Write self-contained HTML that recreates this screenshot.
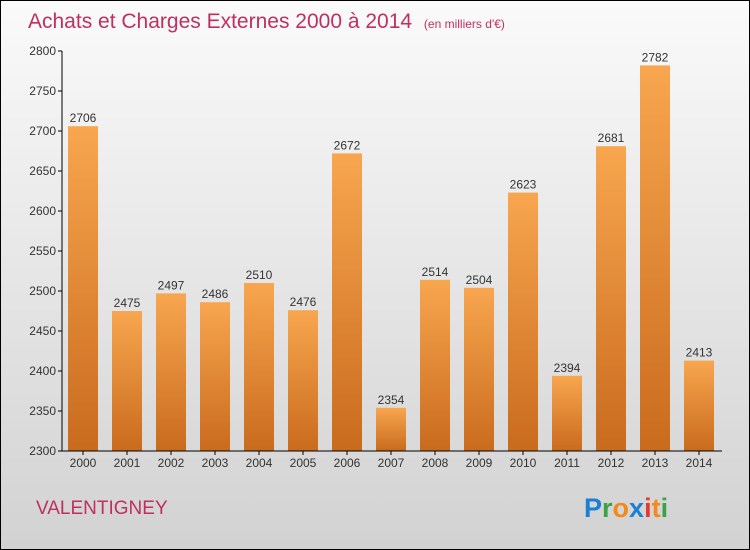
<!DOCTYPE html>
<html><head><meta charset="utf-8"><style>
body{margin:0}
#c{position:relative;width:748px;height:548px;border:1px solid #000;background:linear-gradient(#fafafa,#d2d2d2);font-family:"Liberation Sans",sans-serif;overflow:hidden}
</style></head><body>
<div id="c">
<svg id="s" width="748" height="548" style="position:absolute;left:0;top:0">
<defs><linearGradient id="g" x1="0" y1="0" x2="0" y2="1"><stop offset="0" stop-color="#f8a64f"/><stop offset="1" stop-color="#c96b1d"/></linearGradient></defs>
<text x="27" y="27" font-size="21" fill="#c0305f">Achats et Charges Externes 2000 à 2014 <tspan font-size="12" dx="6">(en milliers d'€)</tspan></text>
<text x="35" y="513" font-size="19" fill="#c0305f">VALENTIGNEY</text>
<g font-size="27" font-weight="bold">
<text x="583" y="516"><tspan fill="#1b7fd6">P</tspan><tspan fill="#3aa34a">r</tspan><tspan fill="#f28a1c">o</tspan><tspan fill="#1b7fd6">x</tspan><tspan fill="#e53a2a">i</tspan><tspan fill="#f28a1c">t</tspan><tspan fill="#3aa34a">i</tspan></text></g>
<g id="plot"></g>
</svg>
</div>
<script>
const years=["2000","2001","2002","2003","2004","2005","2006","2007","2008","2009","2010","2011","2012","2013","2014"];
const values=[2706,2475,2497,2486,2510,2476,2672,2354,2514,2504,2623,2394,2681,2782,2413];
const ticks=[2300,2350,2400,2450,2500,2550,2600,2650,2700,2750,2800];
const NS="http://www.w3.org/2000/svg";
const g=document.getElementById('plot');
const y=v=>450-(v-2300)*0.8;
const x=i=>82+i*44;
function mk(t,a,txt){const e=document.createElementNS(NS,t);for(const k in a)e.setAttribute(k,a[k]);if(txt!==undefined)e.textContent=txt;g.appendChild(e);return e;}
values.forEach((v,i)=>{
 const r=mk('rect',{x:x(i)-15,y:y(v),width:30,height:450-y(v),fill:'url(#g)'});
 
 
 const t=mk('text',{x:x(i),y:y(v)-4,'font-size':12,'text-anchor':'middle',fill:'#333'},String(v));
 
 
 const l=mk('text',{x:x(i),y:466,'font-size':12,'text-anchor':'middle',fill:'#333'},years[i]);
 
 
 mk('line',{x1:x(i),x2:x(i),y1:450,y2:454,stroke:'#000'});
});
ticks.forEach(t=>{
 mk('line',{x1:57,x2:61,y1:y(t),y2:y(t),stroke:'#000'});
 const l=mk('text',{x:55,y:y(t)+4,'font-size':12,'text-anchor':'end',fill:'#333'},String(t));
 
 
});
const ya=mk('line',{x1:61,x2:61,y1:50,y2:450,stroke:'#000'});


const xa=mk('line',{x1:61,x2:721,y1:450,y2:450,stroke:'#000'});


</script>
</body></html>
